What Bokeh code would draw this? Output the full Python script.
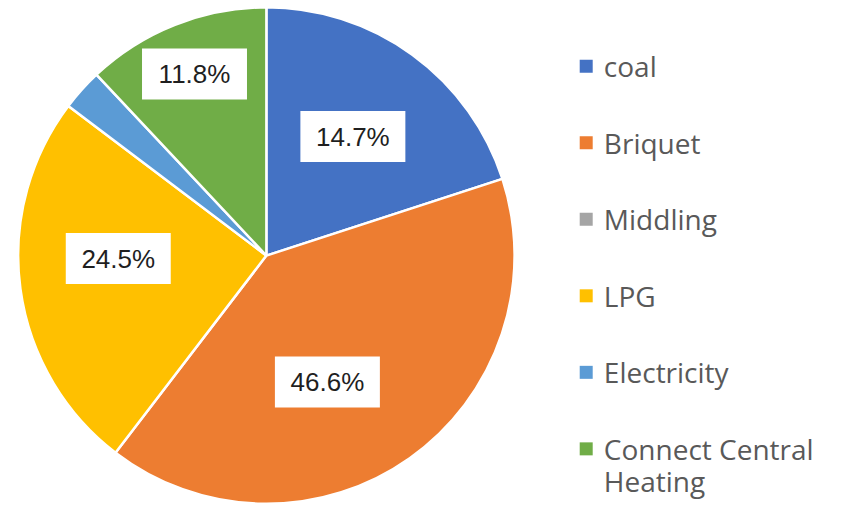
import math
from bokeh.plotting import figure
from bokeh.models import Range1d
from bokeh.core.properties import value
from bokeh.embed import file_html
from bokeh.resources import INLINE

# ---- data ----
categories = ["coal", "Briquet", "Middling", "LPG", "Electricity", "Connect Central Heating"]
slice_values = [20.0, 40.4, 0.0, 24.9, 2.7, 12.0]          # slice sizes as drawn
label_texts = ["14.7%", "46.6%", "", "24.5%", "", "11.8%"]  # printed data labels
colors = ["#4472C4", "#ED7D31", "#A5A5A5", "#FFC000", "#5B9BD5", "#70AD47"]
legend_lines = [["coal"], ["Briquet"], ["Middling"], ["LPG"], ["Electricity"], ["Connect Central", "Heating"]]

# ---- layout (reference pixel units, y measured from top) ----
REF_W, REF_H = 846, 522
W, H = 830, 506
s = W / REF_W
vis_h = H / s
cx, cy, R = 271, 260, 253
label_shift_deg = [0, -9.5, 0, -6.6, 0, 0]
label_dist = [150, 143, 0, 151, 0, 199]
box_w, box_h = 107, 52

def Y(y_ref):
    return REF_H - y_ref

p = figure(width=W, height=H, output_backend="svg", toolbar_location=None,
           x_range=Range1d(0, REF_W), y_range=Range1d(REF_H - vis_h, REF_H), min_border=0)
p.axis.visible = False
p.grid.visible = False
p.outline_line_color = None
p.background_fill_color = "white"
p.border_fill_color = "white"

total = sum(slice_values)
cum = 0.0
for i, v in enumerate(slice_values):
    frac0 = cum / total
    cum += v
    frac1 = cum / total
    if v <= 0:
        continue
    a_start = math.pi / 2 - frac1 * 2 * math.pi
    a_end = math.pi / 2 - frac0 * 2 * math.pi
    p.wedge(x=cx, y=Y(cy), radius=R, start_angle=a_start, end_angle=a_end,
            direction="anticlock", fill_color=colors[i], line_color="white", line_width=2.5)
    if label_texts[i]:
        mid = (a_start + a_end) / 2 + math.radians(label_shift_deg[i])
        lx = cx + label_dist[i] * math.cos(mid)
        ly = Y(cy) + label_dist[i] * math.sin(mid)
        p.rect(x=lx, y=ly, width=box_w, height=box_h, fill_color="white", line_color=None)
        p.text(x=lx, y=ly, text=[label_texts[i]], text_align="center", text_baseline="middle",
               text_font=value("Liberation Sans"), text_font_size="26px", text_color="#1f1f1f")

# legend
leg_x, leg_y0, leg_dy, line_dy = 597, 67, 78, 33
for i, name_lines in enumerate(legend_lines):
    y = leg_y0 + i * leg_dy
    p.scatter(x=[leg_x], y=[Y(y)], marker="square", size=13, fill_color=colors[i], line_color=None)
    for j, t in enumerate(name_lines):
        p.text(x=[leg_x + 18], y=[Y(y + j * line_dy)], text=[t], text_align="left", text_baseline="middle",
               text_font=value("Open Sans"), text_font_size="28px", text_color="#595959")

open("out.html", "w").write(file_html(p, INLINE))
